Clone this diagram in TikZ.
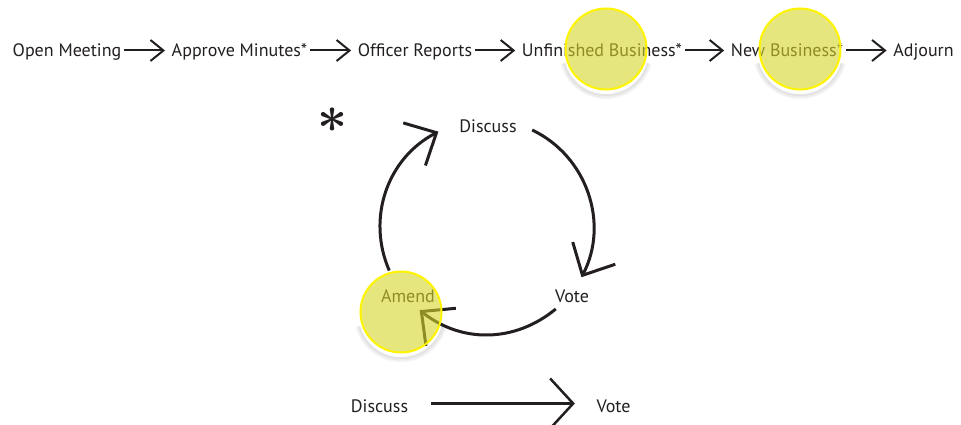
\documentclass[tikz,border=0pt]{standalone}
\usepackage{fontspec}
\setmainfont{PT Sans}
\usetikzlibrary{arrows.meta}
\definecolor{ink}{RGB}{35,31,32}
\definecolor{hlfill}{RGB}{214,214,40}
\definecolor{hlline}{RGB}{255,244,0}

\begin{document}
\begin{tikzpicture}[x=1pt,y=1pt,
  word/.style={anchor=base, font=\fontsize{18}{20}\selectfont, text=ink, inner sep=0.5pt, text height=13pt, text depth=0pt},
  flow/.style={draw=ink, line width=2pt, -{Straight Barb[length=13pt,width=21pt]}, shorten <=2pt, shorten >=6pt},
  cyc/.style={draw=ink, line width=3pt, -{Straight Barb[length=25pt,width=48pt]}},
  long/.style={draw=ink, line width=2.5pt, -{Straight Barb[length=23pt,width=50pt]}},
  hl/.style={circle, minimum size=81pt, inner sep=0pt, fill=hlfill, fill opacity=.6, draw=hlline, line width=2pt}]
\useasboundingbox (0,0) rectangle (961,-425);
\node[word] (om)  at (67,-57)    {Open Meeting};
\node[word] (am)  at (239.5,-57) {Approve Minutes*};
\node[word] (orp) at (415,-57)   {Officer Reports};
\node[word] (ub)  at (602,-57)   {Unfinished Business*};
\node[word] (nb)  at (787,-57)   {New Business*};
\node[word] (adj) at (923.5,-57) {Adjourn};
\draw[flow] (om.east) -- (am.west);
\draw[flow] (am.east) -- (orp.west);
\draw[flow] (orp.east) -- (ub.west);
\draw[flow] (ub.east) -- (nb.west);
\draw[flow] (nb.east) -- (adj.west);
\node[font=\fontsize{24.88}{25}\selectfont\mathversion{bold}, text=ink, scale=2.1, transform shape, inner sep=0pt] (star) at (333,-120) {$\ast$};
\node[word] (dis)   at (488,-132) {Discuss};
\node[word] (vote)  at (572,-302) {Vote};
\node[word] (amend) at (408,-302) {Amend};
\coordinate (hub) at (487,-227);
\foreach \n/\a in {c1/65, c2/-28, c3/-50, c4/-129, c5/-156, c6/117}
  \path (hub) ++(\a:107) coordinate (\n);
\draw[cyc] (c1) to[bend left=46] (c2);
\draw[cyc] (c3) to[bend left=39] (c4);
\draw[cyc] (c5) to[bend left=43] (c6);
\node[word] (dis2)  at (379.5,-412) {Discuss};
\node[word] (vote2) at (613.5,-412) {Vote};
\draw[long, shorten <=22pt, shorten >=21pt] ([yshift=2pt]dis2.east) -- ([yshift=2pt]vote2.west);
\node[hl] (hl1) at (606,-49) {};
\node[hl] (hl2) at (800,-49) {};
\node[hl] (hl3) at (401,-312) {};
\foreach \h in {hl1,hl2,hl3}{
  \foreach \r/\o in {43/.10, 44.6/.07, 46.2/.04}
    \draw[black, opacity=\o, line width=1.8pt] ([shift={(195:\r)}]\h.center) ++(0,-3) arc[start angle=195, end angle=345, radius=\r];
}
\end{tikzpicture}
\end{document}
